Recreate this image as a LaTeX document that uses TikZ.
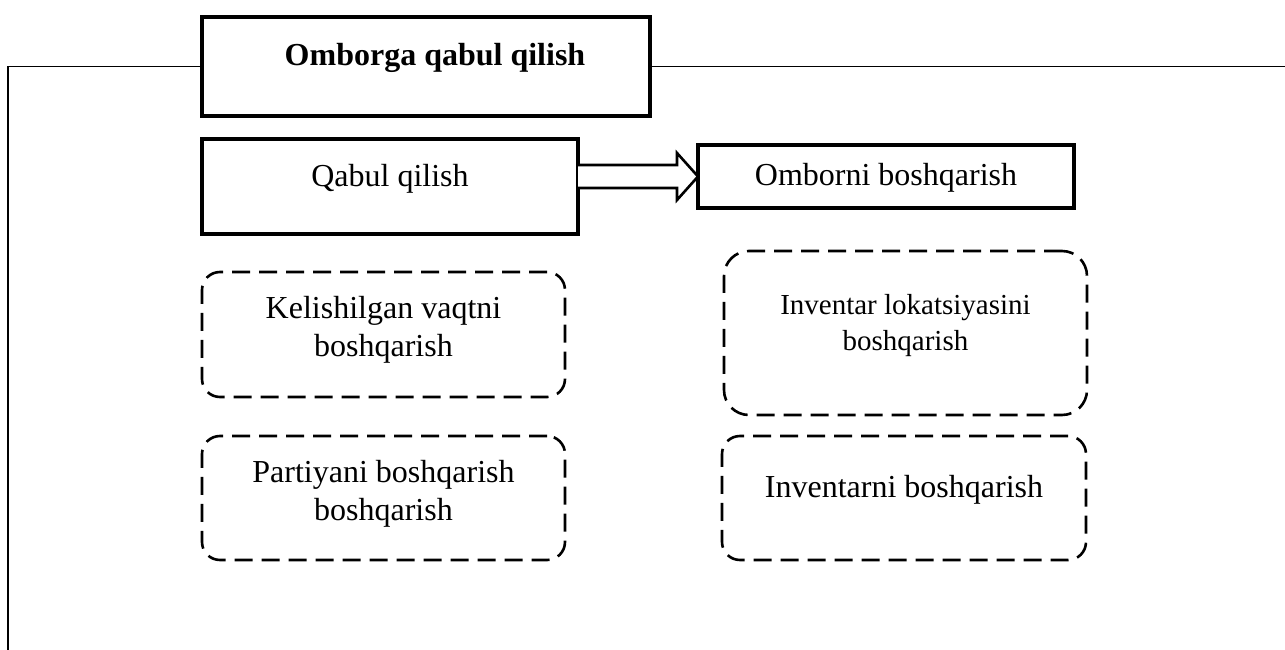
\documentclass[tikz,border=0pt]{standalone}
\usepackage{fontspec}
\setmainfont{Liberation Serif}
\usetikzlibrary{calc}
\tikzset{
  frameline/.style={line width=1.4pt},
  solidbox/.style={draw, line width=4pt, rectangle, inner sep=0pt, outer sep=0pt},
  dashbox/.style={draw, line width=2.6pt, rectangle, rounded corners=#1, inner sep=0pt, outer sep=0pt,
    dash pattern=on 18pt off 9pt},
  dashbox/.default=18pt,
  label32/.style={inner sep=0pt, font=\fontsize{32}{38}\selectfont, align=center},
  label29/.style={inner sep=0pt, font=\fontsize{29}{36}\selectfont, align=center},
  hollowarrow/.style={draw, line width=2.6pt, line join=miter, fill=white}
}
\begin{document}
\begin{tikzpicture}[x=1pt,y=-1pt]
\useasboundingbox (0,0) rectangle (1285,650);

% top title box and the frame attached to it
\node[solidbox, minimum width=448pt, minimum height=99pt] (title) at (426,66.5) {};
\node[label32, anchor=base, font=\fontsize{32}{38}\selectfont\bfseries] (titletext) at (435,66) {Omborga qabul qilish};
\coordinate (frameBL) at (8,650);
\coordinate (frameR) at (1285,66.5);
\draw[frameline] (title.west) -| (frameBL);
\draw[frameline] (title.east) -- (frameR);

% process boxes
\node[solidbox, minimum width=376pt, minimum height=95pt] (qabul) at (390,186.5) {};
\node[label32, anchor=base] (qabultext) at (390,186) {Qabul qilish};
\node[solidbox, minimum width=376pt, minimum height=63pt] (ombor) at (886,176.5) {};
\node[label32, anchor=base] (ombortext) at (886,185) {Omborni boshqarish};

% hollow block arrow between the two process boxes
\coordinate (arrstart) at (qabul.east |- ombor.west);
\draw[hollowarrow]
  ($(arrstart)+(0,-11.5)$) -- ($(ombor.west)+(-21,-11.5)$) -- ($(ombor.west)+(-21,-23.5)$)
  -- (ombor.west)
  -- ($(ombor.west)+(-21,23.5)$) -- ($(ombor.west)+(-21,11.5)$) -- ($(arrstart)+(0,11.5)$);

% dashed sub-function boxes (multi-line labels are anchored on their last baseline)
\node[dashbox, minimum width=363pt, minimum height=125pt] (vaqt) at (383.5,334.5) {};
\node[label32, anchor=base] (vaqttext) at (383.5,356) {Kelishilgan vaqtni\\boshqarish};
\node[dashbox, minimum width=363pt, minimum height=124pt] (partiya) at (383.5,498) {};
\node[label32, anchor=base] (partiyatext) at (383.5,520) {Partiyani boshqarish\\boshqarish};
\node[dashbox=25pt, minimum width=363pt, minimum height=164pt] (lokatsiya) at (905.5,333) {};
\node[label29, anchor=base] (lokatsiyatext) at (905.5,350) {Inventar lokatsiyasini\\boshqarish};
\node[dashbox, minimum width=364pt, minimum height=124pt] (inventar) at (904,498) {};
\node[label32, anchor=base] (inventartext) at (904,497) {Inventarni boshqarish};
\end{tikzpicture}
\end{document}
